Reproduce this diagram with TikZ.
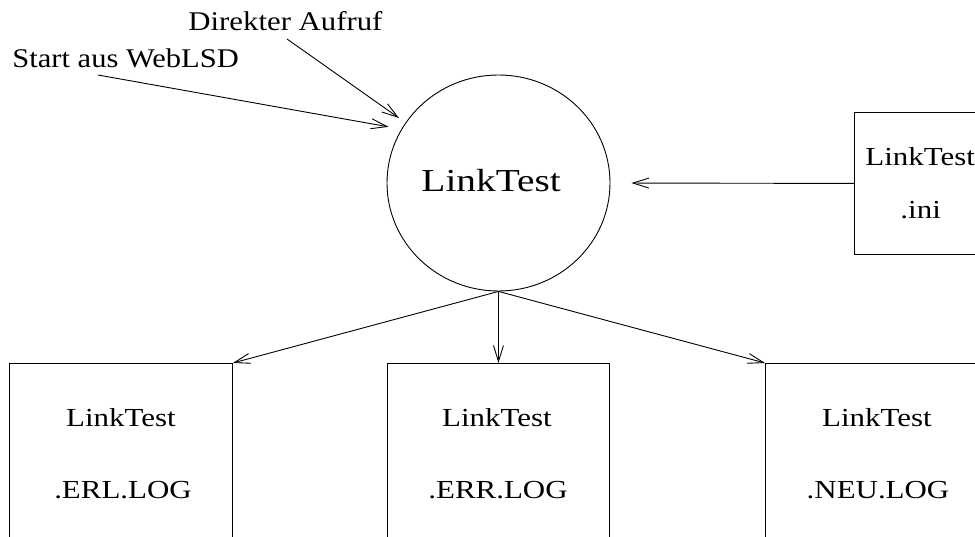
\documentclass[tikz,border=0pt]{standalone}
\usepackage{fontspec}
\setmainfont{Liberation Serif}
\usepackage{graphicx}
\usetikzlibrary{arrows.meta,shapes.geometric}
% the lettering of this chart is set slightly widened
\newcommand\widetext[2]{\scalebox{#1}[1]{#2}}
\begin{document}
\begin{tikzpicture}[x=1pt,y=-1pt,
  line width=0.9pt,
  conn/.style={-{Straight Barb[length=16pt,width=10pt,line width=0.9pt]}},
  lbl/.style={font=\fontsize{27}{32}\selectfont, inner sep=0pt, anchor=base west},
  filebox/.style={draw, rectangle, inner sep=0pt, anchor=north west},
  boxtxt/.style={font=\fontsize{26}{31}\selectfont, inner sep=0pt, anchor=base},
  initxt/.style={boxtxt, anchor=base west},
]
\useasboundingbox (0,0) rectangle (975,537);
\clip (0,0) rectangle (975,537);

% central program
\node[draw, ellipse, minimum width=223pt, minimum height=216pt, inner sep=0pt] (lt) at (498.5,183) {};
\node[font=\fontsize{32}{38}\selectfont, inner sep=0pt, anchor=base west] (ltname) at (421,192) {\widetext{1.23}{LinkTest}};

% files (open towards the lower / right page edge)
\node[filebox, minimum width=223pt, minimum height=200pt] (erl) at (9,363) {};
\node[filebox, minimum width=222pt, minimum height=200pt] (err) at (387,363) {};
\node[filebox, minimum width=223pt, minimum height=200pt] (neu) at (765,363) {};
\node[filebox, minimum width=140pt, minimum height=142pt] (ini) at (854,112) {};

\node[boxtxt] (erlA) at (121,426) {\widetext{1.19}{LinkTest}};
\node[boxtxt] (erlB) at (123,498) {\widetext{1.19}{.ERL.LOG}};
\node[boxtxt] (errA) at (497,426) {\widetext{1.19}{LinkTest}};
\node[boxtxt] (errB) at (498,498) {\widetext{1.19}{.ERR.LOG}};
\node[boxtxt] (neuA) at (877,426) {\widetext{1.19}{LinkTest}};
\node[boxtxt] (neuB) at (878,498) {\widetext{1.19}{.NEU.LOG}};
\node[initxt] (iniA) at (865,166) {\widetext{1.19}{LinkTest}};
\node[initxt] (iniB) at (900,219) {\widetext{1.19}{.ini}};

% callers
\node[lbl] (web) at (12,68) {\widetext{1.13}{Start aus WebLSD}};
\node[lbl] (dir) at (188,31) {\widetext{1.14}{Direkter Aufruf}};
\coordinate (webfrom) at (98,75);
\coordinate (dirfrom) at (287,39);

% connectors
\draw[conn, shorten >=13pt] (webfrom) -- (lt.151.6);
\draw[conn, shorten >=8pt] (dirfrom) -- (lt.147.4);
\draw[conn, shorten >=21pt] (ini.west) -- (lt.east);
\draw[conn] (lt.south) -- (erl.north east);
\draw[conn] (lt.south) -- (err.north);
\draw[conn] (lt.south) -- (neu.north west);
\end{tikzpicture}
\end{document}
